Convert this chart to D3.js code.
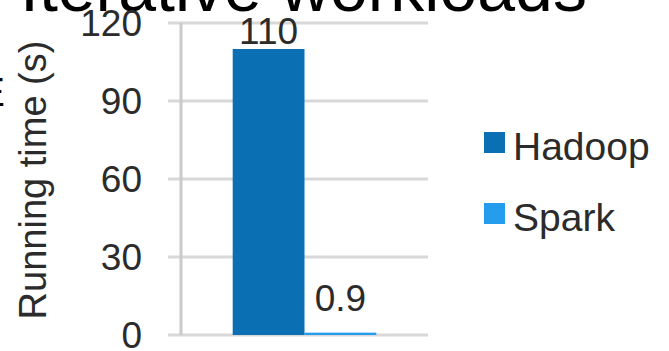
<!DOCTYPE html>
<html>
<head>
<meta charset="utf-8">
<script src="https://cdn.jsdelivr.net/npm/d3@7"></script>
<style>
  html, body { margin: 0; padding: 0; background: #fff; }
  svg { display: block; font-family: "Liberation Sans", Arial, Helvetica, sans-serif; }
</style>
</head>
<body>
<div id="chart"></div>
<script>
;(function(){
  const W = 669, H = 351;

  // data
  const categories = ['Iterative'];
  const series     = ['Hadoop', 'Spark'];
  const values     = [110, 0.9];
  const valueLabels = ['110', '0.9'];
  const yTicks     = [0, 30, 60, 90, 120];

  const colors = { 'Hadoop': '#0b6fb4', 'Spark': '#259cec' };

  const plot = { left: 181, right: 428, top: 23, bottom: 335 };

  const svg = d3.select('#chart')
    .append('svg')
      .attr('width', W)
      .attr('height', H);

  // slide title, cut off at the top of the crop
  svg.append('text')
    .attr('x', 20)
    .attr('y', 11)
    .attr('font-size', 68)
    .attr('fill', '#000')
    .text('Iterative workloads');

  // stray glyph at the left edge
  svg.append('text')
    .attr('x', 5)
    .attr('y', 106)
    .attr('text-anchor', 'end')
    .attr('font-size', 40)
    .attr('fill', '#000')
    .text('E');

  const y = d3.scaleLinear().domain([0, 120]).range([plot.bottom, plot.top]);

  const x0 = d3.scaleBand()
    .domain(categories)
    .range([plot.left, plot.right])
    .paddingOuter(0.36);

  const x1 = d3.scaleBand()
    .domain(series)
    .range([0, x0.bandwidth()]);

  // gridlines
  svg.append('g').selectAll('line')
    .data(yTicks)
    .enter().append('line')
      .attr('x1', plot.left - 13)
      .attr('x2', plot.right)
      .attr('y1', d => y(d))
      .attr('y2', d => y(d))
      .attr('stroke', '#d8d8d8')
      .attr('stroke-width', 3);

  // vertical axis line
  svg.append('line')
    .attr('x1', plot.left).attr('x2', plot.left)
    .attr('y1', plot.top).attr('y2', plot.bottom)
    .attr('stroke', '#cacaca')
    .attr('stroke-width', 3);

  // tick labels
  svg.append('g').selectAll('text')
    .data(yTicks)
    .enter().append('text')
      .attr('x', plot.left - 39)
      .attr('y', d => y(d))
      .attr('dy', '0.36em')
      .attr('text-anchor', 'end')
      .attr('font-size', 37)
      .attr('fill', '#2b2b2b')
      .text(d => d);

  // axis title
  svg.append('text')
    .attr('transform', `translate(46,180) rotate(-90)`)
    .attr('text-anchor', 'middle')
    .attr('font-size', 38)
    .attr('fill', '#2b2b2b')
    .text('Running time (s)');

  // bars
  const g = svg.append('g')
    .attr('transform', `translate(${x0(categories[0])},0)`);

  g.selectAll('rect')
    .data(series)
    .enter().append('rect')
      .attr('x', d => x1(d))
      .attr('width', x1.bandwidth())
      .attr('y', (d, i) => y(values[i]))
      .attr('height', (d, i) => y(0) - y(values[i]))
      .attr('fill', d => colors[d]);

  g.selectAll('text')
    .data(series)
    .enter().append('text')
      .attr('x', d => x1(d) + x1.bandwidth() / 2)
      .attr('y', (d, i) => Math.min(y(values[i]) - 5, y(0) - 24))
      .attr('text-anchor', 'middle')
      .attr('font-size', 37)
      .attr('fill', '#2b2b2b')
      .text((d, i) => valueLabels[i]);

  // legend
  const lg = svg.append('g').selectAll('g')
    .data(series)
    .enter().append('g')
      .attr('transform', (d, i) => `translate(484,${132 + i * 71})`);

  lg.append('rect')
    .attr('width', 21)
    .attr('height', 21)
    .attr('fill', d => colors[d]);

  lg.append('text')
    .attr('x', 29)
    .attr('y', 28)
    .attr('font-size', 39)
    .attr('fill', '#2b2b2b')
    .text(d => d);
})();
</script>
</body>
</html>
